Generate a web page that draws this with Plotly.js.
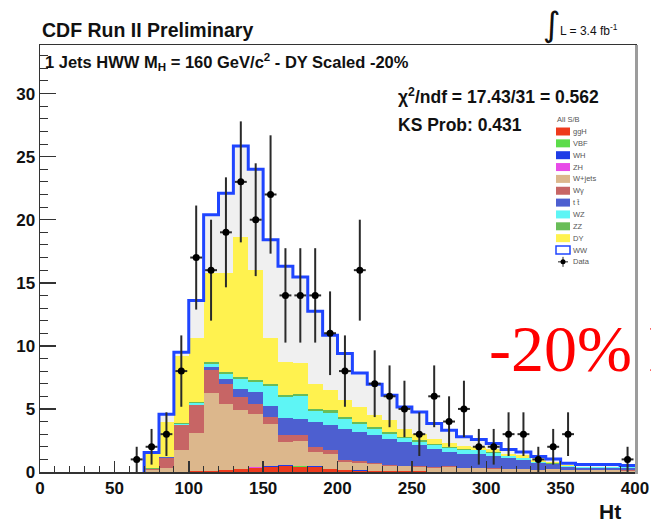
<!DOCTYPE html>
<html>
<head>
<meta charset="utf-8">
<script src="https://cdn.plot.ly/plotly-3.0.1.min.js"></script>
<style>
  html, body { margin: 0; padding: 0; background: #ffffff; }
  #chart { width: 651px; height: 523px; }
</style>
</head>
<body>
<div id="chart"></div>
<script>
// Ht distribution, 1-jet HWW selection, 10 GeV bins from 0 to 400
const binLow = [0,10,20,30,40,50,60,70,80,90,100,110,120,130,140,150,160,170,180,190,
                200,210,220,230,240,250,260,270,280,290,300,310,320,330,340,350,360,370,380,390];
const binWidth = 10;

// expected events per bin, one array per process (stacked bottom to top)
const ggH   = [0,0,0,0,0,0,0,0,0.01,0.02,0.05,0.08,0.12,0.2,0.3,0.4,0.45,0.42,0.38,0.2,
               0.12,0.1,0.08,0.07,0.06,0.05,0.04,0.04,0.03,0.03,0.03,0.02,0.02,0.02,0.02,0.02,0.01,0.01,0.01,0.01];
const vbf   = [0,0,0,0,0,0,0,0,0,0,0,0.005,0.01,0.01,0.015,0.02,0.02,0.02,0.02,0.015,
               0.01,0.01,0.01,0.005,0.005,0,0,0,0,0,0,0,0,0,0,0,0,0,0,0];
const wh    = [0,0,0,0,0,0,0,0,0,0,0,0.01,0.02,0.03,0.04,0.05,0.05,0.05,0.04,0.03,
               0.03,0.02,0.02,0.01,0.01,0,0,0,0,0,0,0,0,0,0,0,0,0,0,0];
const zh    = [0,0,0,0,0,0,0,0,0,0,0,0,0.005,0.01,0.01,0.015,0.015,0.015,0.01,0.01,
               0.01,0.005,0.005,0,0,0,0,0,0,0,0,0,0,0,0,0,0,0,0,0];
const wjets = [0,0,0,0,0,0,0,0.15,0.29,1.70,3.05,6.17,5.27,4.64,4.24,3.32,1.85,1.95,1.15,1.15,
               0.63,0.57,0.49,0.37,0.38,0.35,0.31,0.36,0.27,0.27,0.22,0.18,0.18,0.13,0.18,0.13,0.14,0.14,0.14,0.09];
const wgamma= [0,0,0,0,0,0,0,0.10,0.84,1.98,2.19,1.79,1.53,1.06,0.75,0.55,0.53,0.46,0.40,0.30,
               0.15,0.15,0.10,0.10,0.05,0.05,0.05,0.05,0.05,0.05,0.05,0.04,0.04,0.03,0.03,0.03,0.03,0.03,0.03,0.03];
const ttbar = [0,0,0,0,0,0,0,0.01,0.01,0.05,0.06,0.29,0.38,0.65,0.95,0.90,1.39,1.32,1.97,2.00,
               2.49,2.32,2.21,2.10,1.88,1.67,1.45,1.17,1.10,1.10,1.00,0.85,0.68,0.52,0.37,0.25,0.15,0.15,0.15,0.20];
const wz    = [0,0,0,0,0,0,0,0.01,0.02,0.05,0.10,0.25,0.47,0.78,0.85,1.55,1.62,1.77,0.86,0.99,
               0.74,0.63,0.51,0.38,0.28,0.28,0.30,0.27,0.27,0.26,0.23,0.14,0.17,0.08,0.06,0.04,0.04,0.04,0.04,0.04];
const zz    = [0,0,0,0,0,0,0,0.01,0.03,0.05,0.10,0.12,0.15,0.15,0.15,0.20,0.20,0.20,0.20,0.20,
               0.18,0.17,0.15,0.14,0.12,0.11,0.10,0.09,0.08,0.07,0.07,0.06,0.05,0.05,0.04,0.03,0.03,0.03,0.03,0.03];
const dy    = [0,0,0,0,0,0,0,1.12,2.77,5.35,5.05,7.08,7.85,11.07,8.70,3.65,2.60,2.45,1.97,1.61,
               1.34,1.18,0.93,0.93,0.66,0.54,0.35,0.32,0.25,0.17,0.20,0.16,0.17,0.10,0.08,0.03,0.03,0.03,0.03,0.03];
const ww    = [0,0,0,0,0,0,0,0.15,0.61,0.30,3.00,4.60,6.30,7.25,8.00,7.75,7.58,6.81,5.74,4.34,
               3.69,2.70,2.45,1.98,1.71,1.71,1.24,1.01,0.75,0.62,0.45,0.34,0.28,0.30,0.26,0.16,0.16,0.16,0.16,0.08];

// observed events per bin
const dataCounts = [0,0,0,0,0,0,1,2,3,8,17,16,19,23,20,22,14,14,14,11,
                    8,16,7,6,5,3,6,4,5,2,2,3,3,1,2,3,0,0,0,1];

// process names and fill colours, bottom of the stack first
const procNames  = ['ggH','VBF','WH','ZH','W+jets','W\u03b3','t t\u0304','WZ','ZZ','DY','WW'];
const procColors = ['#ee3a1c','#5cdc4a','#1f3ce6','#e84ae8','#dcb78c','#c76565','#4d5fd0','#5ef5f5','#69bd58','#fff24f','#f0f0f0'];
const procValues = [ggH, vbf, wh, zh, wjets, wgamma, ttbar, wz, zz, dy, ww];

const totalColor = '#1f45ff';

// ---- frame geometry in pixels (plot area) ----
const W = 651, H = 523;
const frame = { l: 40, r: 635, t: 45, b: 472 };
const px = x => (x - frame.l) / (frame.r - frame.l);
const py = y => (frame.b - y) / (frame.b - frame.t);

const centers = binLow.map(v => v + binWidth / 2);

const traces = [];
procValues.forEach((vals, i) => {
  traces.push({
    type: 'bar',
    x: centers,
    y: vals,
    width: binWidth,
    marker: { color: procColors[i], line: { width: 0 } },
    name: procNames[i],
    hoverinfo: 'skip',
    showlegend: false
  });
});

// total expectation outline (step histogram)
const totals = binLow.map((_, i) => procValues.reduce((s, arr) => s + arr[i], 0));
let first = totals.findIndex(v => v > 0);
const stepX = [binLow[first]], stepY = [0];
for (let i = first; i < binLow.length; i++) { stepX.push(binLow[i]); stepY.push(totals[i]); }
stepX.push(binLow[binLow.length - 1] + binWidth);
stepY.push(totals[totals.length - 1]);
traces.push({
  type: 'scatter', mode: 'lines',
  x: stepX, y: stepY,
  line: { shape: 'hv', color: totalColor, width: 3 },
  hoverinfo: 'skip', showlegend: false, cliponaxis: true
});

// data points with Poisson errors
const dX = [], dY = [], dE = [];
dataCounts.forEach((n, i) => {
  if (n > 0) { dX.push(centers[i]); dY.push(n); dE.push(Math.sqrt(n)); }
});
traces.push({
  type: 'scatter', mode: 'markers',
  x: dX, y: dY,
  marker: { color: '#000000', size: 7, symbol: 'circle' },
  error_y: { type: 'data', array: dE, visible: true, color: '#2a2a2a', thickness: 2, width: 0 },
  error_x: { type: 'constant', value: 4, visible: true, color: '#2a2a2a', thickness: 2, width: 0 },
  hoverinfo: 'skip', showlegend: false, cliponaxis: false
});

const tickFont = { family: 'Liberation Sans, Arial, sans-serif', size: 17, color: '#111111', weight: 'bold' };

const shapes = [];
const annotations = [];

// frame shadow on the right edge
shapes.push({ type: 'line', xref: 'paper', yref: 'paper',
  x0: px(636.5), x1: px(636.5), y0: py(474), y1: py(45),
  line: { color: '#9c9c9c', width: 3 } });

// text around the frame
const txt = (t, x, y, size, opts = {}) => annotations.push(Object.assign({
  text: t, xref: 'paper', yref: 'paper', x: px(x), y: py(y),
  xanchor: 'left', yanchor: 'middle', showarrow: false,
  font: { family: 'Liberation Sans, Arial, sans-serif', size: size, color: '#111111', weight: 'bold' }
}, opts));

txt('CDF Run II Preliminary', 40, 30, 19.5);
txt('\u222b', 541, 24, 34, { font: { family: 'DejaVu Sans, sans-serif', size: 34, color: '#111', weight: 'normal' } });
txt('L = 3.4 fb<sup>-1</sup>', 558, 30, 12, { font: { family: 'Liberation Sans, Arial, sans-serif', size: 12, color: '#111', weight: 'normal' } });
txt('1 Jets HWW M<sub>H</sub> = 160 GeV/c<sup>2</sup> - DY Scaled -20%', 43, 62, 16.5);
txt('\u03c7<sup>2</sup>/ndf = 17.43/31 = 0.562', 396, 96, 17.5);
txt('KS Prob: 0.431', 396, 125, 17.5);
txt('Ht', 597, 511, 21);
txt('-20% DY', 487, 348, 66, { font: { family: 'Liberation Serif, Times New Roman, serif', size: 66, color: '#ff0000', weight: 'normal' } });

// legend block
const legFont = { family: 'Liberation Sans, Arial, sans-serif', size: 7.5, color: '#555555' };
const legX0 = 556, legX1 = 570, legTop = 131.5, legStep = 11.85;
txt('All S/B', 555, 120, 7.5, { font: legFont });
procNames.forEach((name, i) => {
  const yc = legTop + i * legStep;
  const isWW = name === 'WW';
  shapes.push({ type: 'rect', xref: 'paper', yref: 'paper',
    x0: px(legX0), x1: px(legX1), y0: py(yc + 4), y1: py(yc - 4),
    fillcolor: isWW ? '#ffffff' : procColors[i],
    line: { width: isWW ? 1.5 : 0, color: totalColor } });
  txt(name, 571, yc, 7.5, { font: legFont });
});
{
  const yc = legTop + procNames.length * legStep;
  const xc = (legX0 + legX1) / 2;
  shapes.push({ type: 'line', xref: 'paper', yref: 'paper', x0: px(xc), x1: px(xc), y0: py(yc + 5), y1: py(yc - 5), line: { color: '#222', width: 1 } });
  shapes.push({ type: 'line', xref: 'paper', yref: 'paper', x0: px(legX0 + 2), x1: px(legX1 - 2), y0: py(yc), y1: py(yc), line: { color: '#222', width: 1 } });
  shapes.push({ type: 'circle', xref: 'paper', yref: 'paper', x0: px(xc - 2.5), x1: px(xc + 2.5), y0: py(yc + 2.5), y1: py(yc - 2.5), fillcolor: '#000', line: { width: 0 } });
  txt('Data', 571, yc, 7.5, { font: legFont });
}

const layout = {
  width: W, height: H,
  margin: { l: frame.l, r: W - frame.r, t: frame.t, b: H - frame.b, pad: 0 },
  paper_bgcolor: '#ffffff', plot_bgcolor: '#ffffff',
  barmode: 'stack', bargap: 0, showlegend: false,
  xaxis: {
    range: [0, 400], tick0: 0, dtick: 50, fixedrange: true,
    ticks: 'inside', ticklen: 11, tickwidth: 1.5, tickcolor: '#333',
    minor: { dtick: 10, ticks: 'inside', ticklen: 6, tickwidth: 1, tickcolor: '#333', showgrid: false },
    showline: true, linecolor: '#333', linewidth: 1.5, mirror: true,
    showgrid: false, zeroline: false, tickfont: tickFont
  },
  yaxis: {
    range: [0, 33.85], tick0: 0, dtick: 5, fixedrange: true,
    ticks: 'inside', ticklen: 16, tickwidth: 1.5, tickcolor: '#333',
    minor: { dtick: 1, ticks: 'inside', ticklen: 8, tickwidth: 1, tickcolor: '#333', showgrid: false },
    showline: true, linecolor: '#333', linewidth: 1.5, mirror: true,
    showgrid: false, zeroline: false, tickfont: tickFont
  },
  shapes: shapes,
  annotations: annotations
};

Plotly.newPlot('chart', traces, layout, { staticPlot: true, displayModeBar: false });
</script>
</body>
</html>
